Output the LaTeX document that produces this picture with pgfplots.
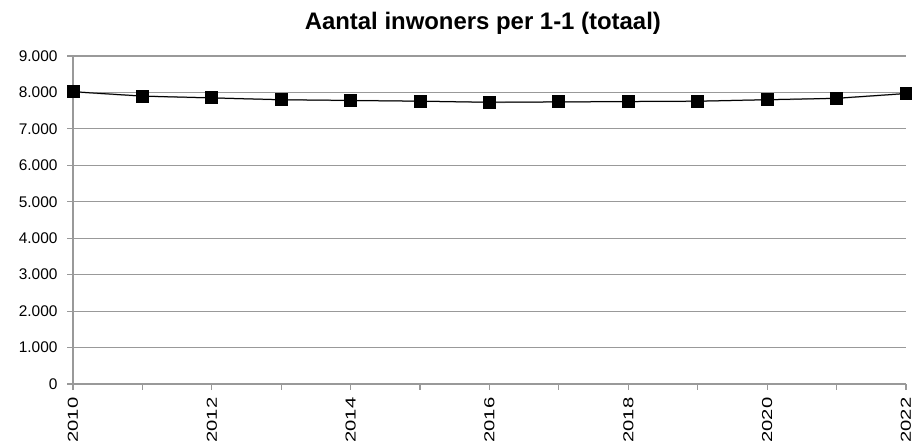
\documentclass[border=0pt]{standalone}
\usepackage{graphicx}
\usepackage{pgfplots}
\pgfplotsset{compat=1.18}
\usepackage{fontspec}
\setmainfont{Liberation Sans}
\newcommand{\xl}[1]{\scalebox{1.4}[1]{#1}}
\begin{document}
\begin{tikzpicture}[x=1bp,y=1bp]
\useasboundingbox (0,0) rectangle (912,443);
\begin{axis}[
  at={(73bp,59bp)}, anchor=origin,
  scale only axis, width=833bp, height=328bp,
  xmin=2010, xmax=2022, ymin=0, ymax=9000,
  axis lines=left, axis line style={-, draw=gray!80, line width=1.2bp},
  xtick={2010,...,2022},
  xticklabels={\xl{2010},,\xl{2012},,\xl{2014},,\xl{2016},,\xl{2018},,\xl{2020},,\xl{2022}},
  ytick={0,1000,...,9000},
  tick align=outside, tick style={draw=gray!80, line width=1.2bp},
  major tick length=6bp,
  ymajorgrids, grid style={draw=gray!80, line width=1.2bp},
  /pgf/number format/assume math mode=true,
  yticklabel style={/pgf/number format/1000 sep={.}, font=\fontsize{15.5}{15.5}\selectfont, xshift=-6bp},
  xticklabel style={rotate=90, anchor=east, font=\fontsize{14.5}{14.5}\selectfont, xshift=-4bp},
  title={\textbf{Aantal inwoners per 1-1 (totaal)}},
  title style={font=\fontsize{24}{24}\selectfont, at={(axis description cs:0.492,1)}, anchor=base, yshift=21bp, inner sep=0pt},
  clip=false,
]
\addplot[draw=gray!70, line width=1.5bp, smooth, tension=0.3] coordinates {
(2010,8020) (2011,7900) (2012,7850) (2013,7800) (2014,7780) (2015,7760) (2016,7730)
(2017,7740) (2018,7750) (2019,7760) (2020,7800) (2021,7840) (2022,7970)};
\addplot[black, line width=1bp, mark=square*, mark size=6bp, mark options={solid, fill=black}] coordinates {
(2010,8020) (2011,7900) (2012,7850) (2013,7800) (2014,7780) (2015,7760) (2016,7730)
(2017,7740) (2018,7750) (2019,7760) (2020,7800) (2021,7840) (2022,7970)};
\end{axis}
\end{tikzpicture}
\end{document}
